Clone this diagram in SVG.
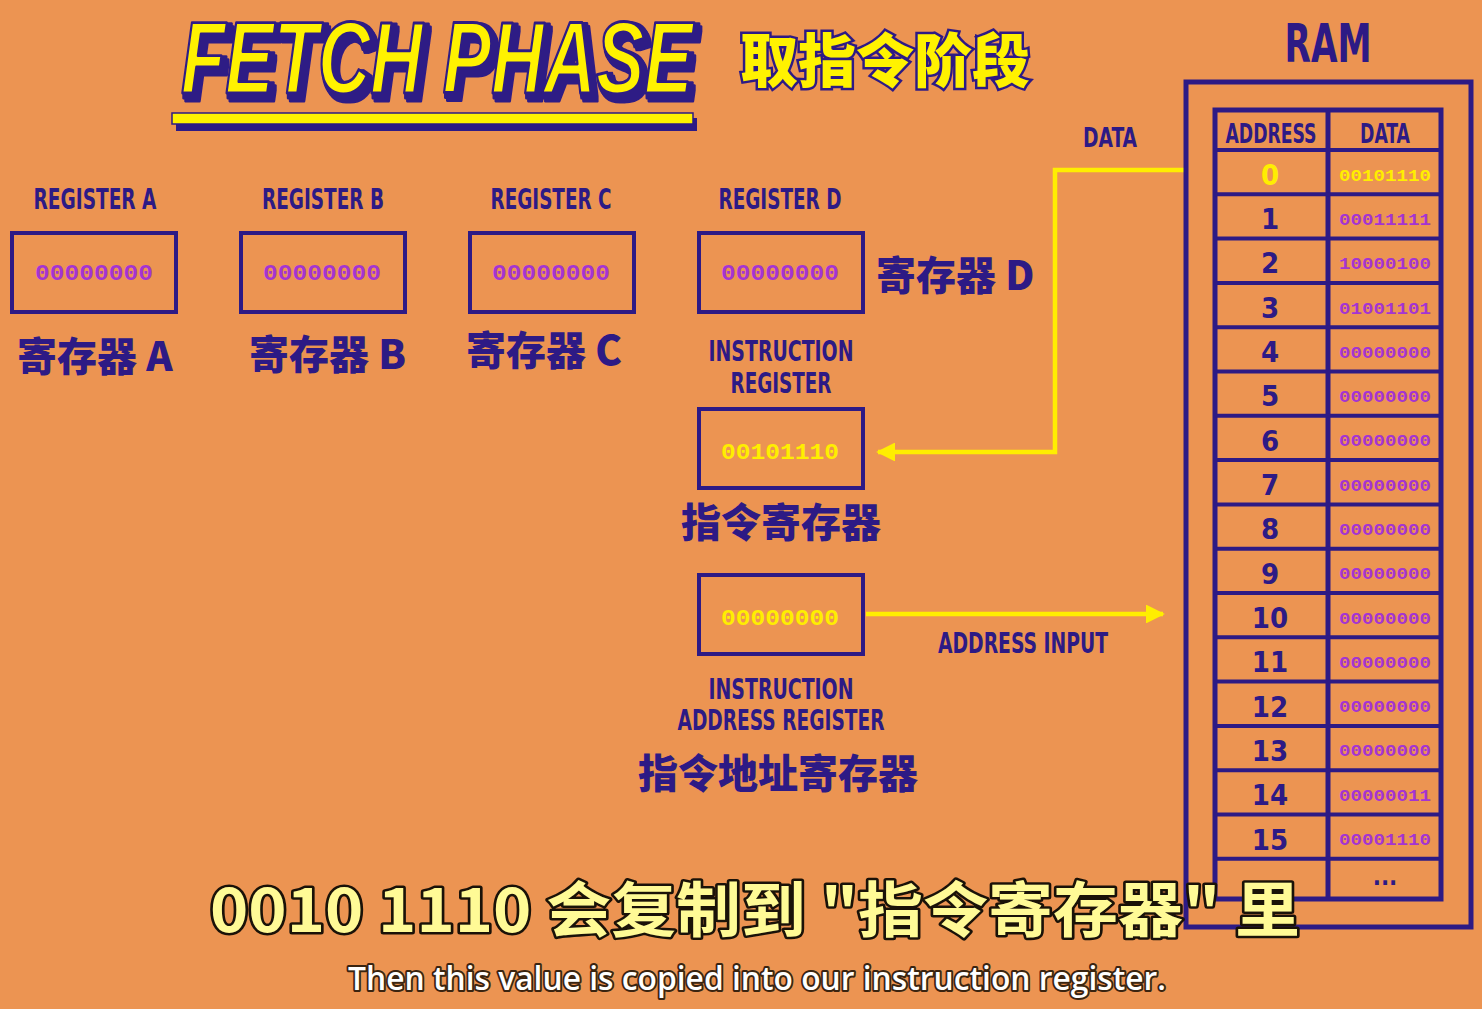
<svg xmlns="http://www.w3.org/2000/svg" width="1482" height="1009" viewBox="0 0 1482 1009">
<defs>
<style>
.bg{fill:#EC9452}
.box{fill:none;stroke:#2D1A85;stroke-width:4}
.lbl{font-family:"DejaVu Sans Condensed","DejaVu Sans","Liberation Sans",sans-serif;font-weight:bold;fill:#2D1A85}
.cn{font-family:"Noto Sans CJK SC",sans-serif;font-weight:900;fill:#2D1A85;font-size:40px}
.val{font-family:"Liberation Mono","DejaVu Sans Mono",monospace;font-weight:bold;font-size:22px;fill:#A434D2;text-anchor:middle}
.valy{font-family:"Liberation Mono","DejaVu Sans Mono",monospace;font-weight:bold;font-size:22px;fill:#FFEE00;text-anchor:middle}
.rv{font-family:"Liberation Mono","DejaVu Sans Mono",monospace;font-weight:bold;font-size:17px;fill:#A434D2;text-anchor:middle}
.rn{font-family:"DejaVu Sans Condensed","DejaVu Sans",sans-serif;font-weight:bold;fill:#2D1A85;font-size:29px;text-anchor:middle}
.wire{fill:none;stroke:#FFEE00;stroke-width:4.5}
.mid{text-anchor:middle}
</style>
<filter id="shadow3d" filterUnits="userSpaceOnUse" x="150" y="0" width="590" height="112">
<feMorphology in="SourceAlpha" operator="dilate" radius="2" result="fat"/>
<feOffset in="fat" dx="3" dy="3" result="o1"/>
<feOffset in="fat" dx="5" dy="6" result="o2"/>
<feMerge result="sh"><feMergeNode in="o1"/><feMergeNode in="o2"/></feMerge>
<feFlood flood-color="#2D1A85"/>
<feComposite in2="sh" operator="in" result="shc"/>
<feMerge><feMergeNode in="shc"/><feMergeNode in="SourceGraphic"/></feMerge>
</filter>
<marker id="ah" viewBox="0 0 10 10" refX="9" refY="5" markerWidth="4.2" markerHeight="4.2" orient="auto" markerUnits="strokeWidth">
<path d="M0,0 L10,5 L0,10 z" fill="#FFEE00"/>
</marker>
</defs>
<rect class="bg" x="0" y="0" width="1482" height="1009"/>

<g id="title">
<g filter="url(#shadow3d)">
<text transform="translate(181,93) scale(0.711,1)" x="0" y="0" font-family="'Liberation Sans','DejaVu Sans',sans-serif" font-weight="bold" font-style="italic" font-size="102" fill="#FFF200" stroke="#2D1A85" stroke-width="3" stroke-linejoin="round">FETCH PHASE</text>
</g>
<rect x="176" y="118" width="521" height="13" fill="#2D1A85"/>
<rect x="172" y="113" width="521" height="11" fill="#FFF200" stroke="#2D1A85" stroke-width="1.5"/>
<text x="740" y="82" font-family="'Noto Sans CJK SC',sans-serif" font-weight="900" font-size="58" fill="#FFF200" stroke="#2D1A85" stroke-width="5" paint-order="stroke" textLength="290" lengthAdjust="spacingAndGlyphs">取指令阶段</text>
</g>

<g id="connectors">
<polyline class="wire" points="1184,170 1055,170 1055,452 878,452" marker-end="url(#ah)"/>
<line class="wire" x1="866" y1="614" x2="1163" y2="614" marker-end="url(#ah)"/>
<text class="lbl mid" x="1110" y="147" style="font-size:27px" textLength="54" lengthAdjust="spacingAndGlyphs">DATA</text>
<text class="lbl mid" x="1023" y="653" style="font-size:28px" textLength="170" lengthAdjust="spacingAndGlyphs">ADDRESS INPUT</text>
</g>

<g id="register-a">
<text class="lbl mid" x="95" y="209" style="font-size:28px" textLength="123" lengthAdjust="spacingAndGlyphs">REGISTER A</text>
<rect class="box" x="12" y="233" width="164" height="79"/>
<text class="val" x="94" y="280" textLength="118" lengthAdjust="spacingAndGlyphs">00000000</text>
<text class="cn" x="17" y="371">寄存器 A</text>
</g>
<g id="register-b">
<text class="lbl mid" x="323" y="209" style="font-size:28px" textLength="122" lengthAdjust="spacingAndGlyphs">REGISTER B</text>
<rect class="box" x="241" y="233" width="164" height="79"/>
<text class="val" x="322" y="280" textLength="118" lengthAdjust="spacingAndGlyphs">00000000</text>
<text class="cn" x="249" y="369">寄存器 B</text>
</g>
<g id="register-c">
<text class="lbl mid" x="551" y="209" style="font-size:28px" textLength="121" lengthAdjust="spacingAndGlyphs">REGISTER C</text>
<rect class="box" x="470" y="233" width="164" height="79"/>
<text class="val" x="551" y="280" textLength="118" lengthAdjust="spacingAndGlyphs">00000000</text>
<text class="cn" x="466" y="365">寄存器 C</text>
</g>
<g id="register-d">
<text class="lbl mid" x="780" y="209" style="font-size:28px" textLength="123" lengthAdjust="spacingAndGlyphs">REGISTER D</text>
<rect class="box" x="699" y="233" width="164" height="79"/>
<text class="val" x="780" y="280" textLength="118" lengthAdjust="spacingAndGlyphs">00000000</text>
<text class="cn" x="876" y="290">寄存器 D</text>
</g>
<g id="instruction-register">
<text class="lbl mid" x="781" y="361" style="font-size:28px" textLength="145" lengthAdjust="spacingAndGlyphs">INSTRUCTION</text>
<text class="lbl mid" x="781" y="393" style="font-size:28px" textLength="101" lengthAdjust="spacingAndGlyphs">REGISTER</text>
<rect class="box" x="699" y="409" width="164" height="79"/>
<text class="valy" x="780" y="459" textLength="118" lengthAdjust="spacingAndGlyphs">00101110</text>
<text class="cn mid" x="781" y="537">指令寄存器</text>
</g>
<g id="instruction-address-register">
<rect class="box" x="699" y="575" width="164" height="79"/>
<text class="valy" x="780" y="625" textLength="118" lengthAdjust="spacingAndGlyphs">00000000</text>
<text class="lbl mid" x="781" y="699" style="font-size:28px" textLength="145" lengthAdjust="spacingAndGlyphs">INSTRUCTION</text>
<text class="lbl mid" x="781" y="730" style="font-size:28px" textLength="207" lengthAdjust="spacingAndGlyphs">ADDRESS REGISTER</text>
<text class="cn mid" x="778" y="788">指令地址寄存器</text>
</g>

<g id="ram">
<text class="lbl mid" x="1328" y="62" style="font-size:54px" textLength="87" lengthAdjust="spacingAndGlyphs">RAM</text>
<rect x="1186" y="82" width="285" height="845" fill="none" stroke="#2D1A85" stroke-width="5"/>
<rect x="1215" y="110" width="226" height="789" fill="none" stroke="#2D1A85" stroke-width="5"/>
<line x1="1328" y1="110" x2="1328" y2="899" stroke="#2D1A85" stroke-width="5"/>
<g stroke="#2D1A85" stroke-width="4">
<line x1="1215" y1="150" x2="1441" y2="150"/>
<line x1="1215" y1="194.3" x2="1441" y2="194.3"/>
<line x1="1215" y1="238.6" x2="1441" y2="238.6"/>
<line x1="1215" y1="282.9" x2="1441" y2="282.9"/>
<line x1="1215" y1="327.2" x2="1441" y2="327.2"/>
<line x1="1215" y1="371.5" x2="1441" y2="371.5"/>
<line x1="1215" y1="415.8" x2="1441" y2="415.8"/>
<line x1="1215" y1="460.1" x2="1441" y2="460.1"/>
<line x1="1215" y1="504.4" x2="1441" y2="504.4"/>
<line x1="1215" y1="548.7" x2="1441" y2="548.7"/>
<line x1="1215" y1="593" x2="1441" y2="593"/>
<line x1="1215" y1="637.3" x2="1441" y2="637.3"/>
<line x1="1215" y1="681.6" x2="1441" y2="681.6"/>
<line x1="1215" y1="725.9" x2="1441" y2="725.9"/>
<line x1="1215" y1="770.2" x2="1441" y2="770.2"/>
<line x1="1215" y1="814.5" x2="1441" y2="814.5"/>
<line x1="1215" y1="858.8" x2="1441" y2="858.8"/>
</g>
<text class="lbl mid" x="1271" y="143" style="font-size:27px" textLength="91" lengthAdjust="spacingAndGlyphs">ADDRESS</text>
<text class="lbl mid" x="1385" y="143" style="font-size:27px" textLength="50" lengthAdjust="spacingAndGlyphs">DATA</text>
<text class="rn" x="1270" y="185" style="fill:#FFEE00">0</text>
<text class="rn" x="1270" y="229">1</text>
<text class="rn" x="1270" y="273">2</text>
<text class="rn" x="1270" y="318">3</text>
<text class="rn" x="1270" y="362">4</text>
<text class="rn" x="1270" y="406">5</text>
<text class="rn" x="1270" y="451">6</text>
<text class="rn" x="1270" y="495">7</text>
<text class="rn" x="1270" y="539">8</text>
<text class="rn" x="1270" y="584">9</text>
<text class="rn" x="1270" y="628">10</text>
<text class="rn" x="1270" y="672">11</text>
<text class="rn" x="1270" y="717">12</text>
<text class="rn" x="1270" y="761">13</text>
<text class="rn" x="1270" y="805">14</text>
<text class="rn" x="1270" y="850">15</text>
<text class="rv" x="1385" y="181" textLength="92" lengthAdjust="spacingAndGlyphs" style="fill:#FFEE00">00101110</text>
<text class="rv" x="1385" y="225" textLength="92" lengthAdjust="spacingAndGlyphs">00011111</text>
<text class="rv" x="1385" y="269" textLength="92" lengthAdjust="spacingAndGlyphs">10000100</text>
<text class="rv" x="1385" y="314" textLength="92" lengthAdjust="spacingAndGlyphs">01001101</text>
<text class="rv" x="1385" y="358" textLength="92" lengthAdjust="spacingAndGlyphs">00000000</text>
<text class="rv" x="1385" y="402" textLength="92" lengthAdjust="spacingAndGlyphs">00000000</text>
<text class="rv" x="1385" y="446" textLength="92" lengthAdjust="spacingAndGlyphs">00000000</text>
<text class="rv" x="1385" y="491" textLength="92" lengthAdjust="spacingAndGlyphs">00000000</text>
<text class="rv" x="1385" y="535" textLength="92" lengthAdjust="spacingAndGlyphs">00000000</text>
<text class="rv" x="1385" y="579" textLength="92" lengthAdjust="spacingAndGlyphs">00000000</text>
<text class="rv" x="1385" y="624" textLength="92" lengthAdjust="spacingAndGlyphs">00000000</text>
<text class="rv" x="1385" y="668" textLength="92" lengthAdjust="spacingAndGlyphs">00000000</text>
<text class="rv" x="1385" y="712" textLength="92" lengthAdjust="spacingAndGlyphs">00000000</text>
<text class="rv" x="1385" y="756" textLength="92" lengthAdjust="spacingAndGlyphs">00000000</text>
<text class="rv" x="1385" y="801" textLength="92" lengthAdjust="spacingAndGlyphs">00000011</text>
<text class="rv" x="1385" y="845" textLength="92" lengthAdjust="spacingAndGlyphs">00001110</text>
<text class="rn" x="1385" y="885" style="font-size:24px">...</text>
</g>

<g id="subtitles">
<text x="210" y="932" font-family="'Noto Sans CJK SC',sans-serif" font-weight="bold" font-size="60" fill="#FFFA96" stroke="#1a1208" stroke-width="5" paint-order="stroke" stroke-linejoin="round" textLength="1090" lengthAdjust="spacingAndGlyphs">0010 1110 会复制到 "指令寄存器" 里</text>
<text x="348" y="990" font-family="'Open Sans','Noto Sans',sans-serif" font-weight="600" font-size="33" fill="#FFFFFF" stroke="#3a2410" stroke-width="4" paint-order="stroke" stroke-linejoin="round" textLength="818" lengthAdjust="spacingAndGlyphs">Then this value is copied into our instruction register.</text>
</g>
</svg>
